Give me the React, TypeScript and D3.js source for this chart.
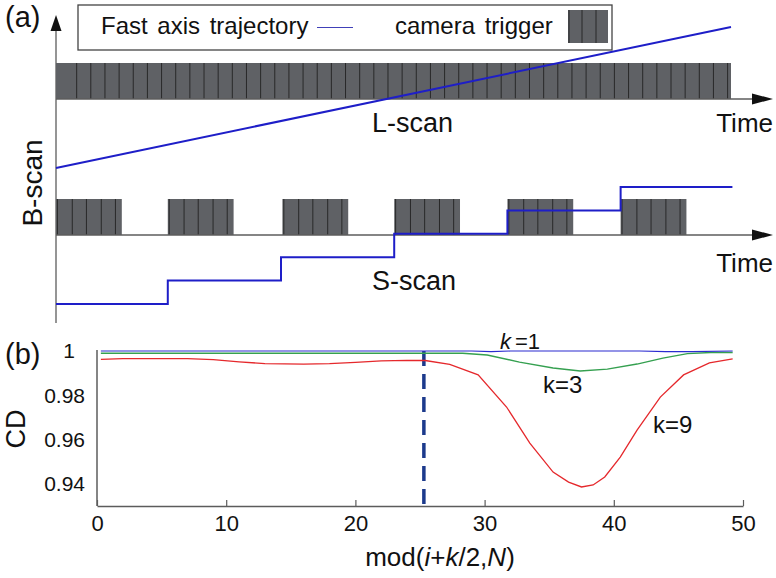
import React, { useEffect, useRef } from 'react';
import * as d3 from 'd3';

// ---- panel (a): time measured in camera frames
const lscanEnd = 47.7;
const lscanFramePhase = 1.46;
const lscanFrameCount = 47;
const lscanTrajTime = [0, 47.7];
const lscanTrajPos = [0, 1];

const sGroupStarts = [0, 7.9, 16, 23.9, 31.9, 39.9];
const sGroupLength = 4.65;
const sFrameOffsets = [0.1, 1.15, 2.15, 3.2, 4.2];
const sStepTimes = [0, 7.9, 15.9, 23.9, 31.9, 39.9, 47.8];
const sStepLevels = [0, 1, 2, 3, 4, 5, 5];

// ---- panel (b)
const xTicks = [0, 10, 20, 30, 40, 50];
const yTicks = [0.94, 0.96, 0.98, 1];
const dashedAt = 25.3;

const k1X = [0.3, 29, 30.5, 32, 42, 44, 46, 49.2];
const k1CD = [1, 1, 0.9997, 1, 1, 0.9997, 0.9997, 1];

const k3X = [0.3, 10, 20, 28.3, 30.2, 32.7, 35.3, 37.4, 39.5, 41.8, 43.8, 45.7, 47.5, 49.2];
const k3CD = [0.999, 0.999, 0.999, 0.999, 0.9982, 0.995, 0.9923, 0.991, 0.9918, 0.9941, 0.9968, 0.9988, 0.9993, 0.9993];

const k9X = [0.3, 2, 4, 7, 9, 11, 13, 16, 18, 20, 22, 24, 25.4, 27.3, 29.5, 31.7, 33.5, 35.3, 36.5, 37.5, 38.4, 39.3, 40.5, 41.8, 43.6, 45.4, 47.4, 49.2];
const k9CD = [0.9962, 0.9966, 0.9966, 0.9966, 0.9961, 0.9951, 0.9943, 0.9941, 0.9943, 0.9949, 0.9955, 0.9958, 0.9957, 0.994, 0.9892, 0.9747, 0.9584, 0.9453, 0.9408, 0.9386, 0.9395, 0.9431, 0.9521, 0.9643, 0.9792, 0.9892, 0.9946, 0.9964];

export default function App() {
  const ref = useRef<SVGSVGElement>(null);

  useEffect(() => {
    const svg = d3.select(ref.current);
    svg.selectAll('*').remove();
    svg.attr('font-family', '"Liberation Sans", Arial, sans-serif');

    const axisCol = '#5c5c5c';
    const barFill = '#5f6165';
    const divCol = '#222';
    const blue = '#1e1ec8';

    // ================= panel (a)
    const t = d3.scaleLinear().domain([0, lscanEnd]).range([56, 731]);
    const lPos = d3.scaleLinear().domain([0, 1]).range([168, 27]);
    const sPos = d3.scaleLinear().domain([0, 5]).range([304, 187]);

    // vertical B-scan axis
    svg.append('line').attr('x1', 56).attr('x2', 56).attr('y1', 28).attr('y2', 323)
      .attr('stroke', axisCol).attr('stroke-width', 1.3);
    svg.append('path').attr('d', 'M56,15 L50.5,31 L61.5,31 Z').attr('fill', '#111');

    // L-scan camera trigger
    const lTop = 63, lBase = 99;
    svg.append('rect').attr('x', t(0)).attr('y', lTop).attr('width', t(lscanEnd) - t(0))
      .attr('height', lBase - lTop).attr('fill', barFill);
    const lDiv = d3.range(lscanFrameCount).map(n => lscanFramePhase + n);
    svg.append('g').selectAll('line').data(lDiv).join('line')
      .attr('x1', d => t(d)).attr('x2', d => t(d)).attr('y1', lTop).attr('y2', lBase)
      .attr('stroke', divCol).attr('stroke-width', 0.9);

    const timeAxis = (y: number) => {
      svg.append('line').attr('x1', 56).attr('x2', 756).attr('y1', y).attr('y2', y)
        .attr('stroke', axisCol).attr('stroke-width', 1.3);
      svg.append('path').attr('d', `M773,${y} L752,${y - 5.5} L752,${y + 5.5} Z`).attr('fill', '#111');
    };
    timeAxis(lBase);

    svg.append('path')
      .datum(lscanTrajTime.map((d, i) => [d, lscanTrajPos[i]] as [number, number]))
      .attr('d', d3.line<[number, number]>().x(d => t(d[0])).y(d => lPos(d[1])))
      .attr('fill', 'none').attr('stroke', blue).attr('stroke-width', 2);

    // S-scan camera trigger
    const sTop = 199, sBase = 235;
    const grp = svg.append('g').selectAll('g').data(sGroupStarts).join('g');
    grp.append('rect').attr('x', d => t(d)).attr('y', sTop)
      .attr('width', t(sGroupLength) - t(0)).attr('height', sBase - sTop).attr('fill', barFill);
    grp.selectAll('line').data(d => sFrameOffsets.map(o => d + o)).join('line')
      .attr('x1', d => t(d)).attr('x2', d => t(d)).attr('y1', sTop).attr('y2', sBase)
      .attr('stroke', divCol).attr('stroke-width', 0.9);

    timeAxis(sBase);

    svg.append('path')
      .datum(sStepTimes.map((d, i) => [d, sStepLevels[i]] as [number, number]))
      .attr('d', d3.line<[number, number]>().x(d => t(d[0])).y(d => sPos(d[1])).curve(d3.curveStepAfter))
      .attr('fill', 'none').attr('stroke', blue).attr('stroke-width', 2);

    // legend
    svg.append('rect').attr('x', 78).attr('y', 5).attr('width', 534).attr('height', 45)
      .attr('fill', '#fff').attr('stroke', '#444').attr('stroke-width', 1.3);
    svg.append('text').attr('x', 101).attr('y', 34).attr('font-size', 24).attr('word-spacing', 3)
      .attr('fill', '#111').text('Fast axis trajectory');
    svg.append('line').attr('x1', 317).attr('x2', 353).attr('y1', 27.5).attr('y2', 27.5)
      .attr('stroke', '#4040b8').attr('stroke-width', 1.2);
    svg.append('text').attr('x', 395).attr('y', 34).attr('font-size', 24).attr('word-spacing', 3)
      .attr('fill', '#111').text('camera trigger');
    svg.append('rect').attr('x', 568).attr('y', 10).attr('width', 40).attr('height', 33).attr('fill', barFill);
    svg.append('g').selectAll('line').data([569, 582, 596]).join('line')
      .attr('x1', d => d).attr('x2', d => d).attr('y1', 10).attr('y2', 43)
      .attr('stroke', divCol).attr('stroke-width', 0.9);

    // panel (a) texts
    const txt = (x: number, y: number, s: string, size: number, anchor = 'start') =>
      svg.append('text').attr('x', x).attr('y', y).attr('font-size', size)
        .attr('text-anchor', anchor).attr('fill', '#111').text(s);
    txt(5, 27, '(a)', 29);
    txt(372, 132, 'L-scan', 27);
    txt(773, 132, 'Time', 26, 'end');
    txt(372, 290, 'S-scan', 27);
    txt(773, 272, 'Time', 26, 'end');
    svg.append('text').attr('transform', 'translate(42,183) rotate(-90)').attr('font-size', 28)
      .attr('text-anchor', 'middle').attr('fill', '#111').text('B-scan');

    // ================= panel (b)
    const x = d3.scaleLinear().domain([0, 50]).range([97, 743]);
    const y = d3.scaleLinear().domain([0.93, 1]).range([506, 351]);

    const xAxis = svg.append('g').attr('transform', 'translate(0,506)')
      .call(d3.axisBottom(x).tickValues(xTicks).tickSize(-6).tickSizeOuter(0).tickPadding(10));
    xAxis.select('.domain').attr('stroke', axisCol).attr('stroke-width', 1.5);
    xAxis.selectAll('.tick line').attr('stroke', axisCol).attr('stroke-width', 1.2);
    xAxis.selectAll('.tick text').attr('font-size', 22).attr('fill', '#111')
      .attr('font-family', '"Liberation Sans", Arial, sans-serif').attr('dy', '0.71em').attr('y', 9);

    const yAxis = svg.append('g').attr('transform', 'translate(97,0)')
      .call(d3.axisLeft(y).tickValues(yTicks).tickSize(0).tickSizeOuter(0).tickPadding(12)
        .tickFormat(d => (+d === 1 ? '1' : d3.format('.2f')(+d))));
    yAxis.select('.domain').attr('stroke', axisCol).attr('stroke-width', 1.5)
      .attr('d', `M0,${y(1) - 1}V506`);
    yAxis.selectAll('.tick text').attr('font-size', 21).attr('fill', '#111')
      .attr('font-family', '"Liberation Sans", Arial, sans-serif')
      .attr('x', (d: any) => (+d === 1 ? -22 : -12));

    // dashed marker
    svg.append('line').attr('x1', x(dashedAt)).attr('x2', x(dashedAt)).attr('y1', 351).attr('y2', 506)
      .attr('stroke', '#1c3a8c').attr('stroke-width', 3.5).attr('stroke-dasharray', '15,8');

    const line = d3.line<[number, number]>().x(d => x(d[0])).y(d => y(d[1]));
    const series: [number[], number[], string, number][] = [
      [k9X, k9CD, '#e5282c', 1.3],
      [k3X, k3CD, '#35a050', 1.4],
      [k1X, k1CD, '#2b2bd0', 1.2],
    ];
    series.forEach(([xs, ys, col, w]) => {
      svg.append('path').datum(xs.map((d, i) => [d, ys[i]] as [number, number]))
        .attr('d', line).attr('fill', 'none').attr('stroke', col).attr('stroke-width', w);
    });

    // labels
    const k1 = svg.append('text').attr('x', 500).attr('y', 349).attr('font-size', 22).attr('fill', '#111');
    k1.append('tspan').attr('font-style', 'italic').text('k');
    k1.append('tspan').attr('dx', 4).text('=1');
    txt(543, 393, 'k=3', 24);
    txt(653, 433, 'k=9', 24);
    txt(5, 364, '(b)', 29);
    svg.append('text').attr('transform', 'translate(25,429) rotate(-90)').attr('font-size', 27)
      .attr('text-anchor', 'middle').attr('fill', '#111').text('CD');

    const xl = svg.append('text').attr('x', 440).attr('y', 566).attr('font-size', 26)
      .attr('text-anchor', 'middle').attr('fill', '#111');
    xl.append('tspan').text('mod(');
    xl.append('tspan').attr('font-style', 'italic').text('i');
    xl.append('tspan').text('+');
    xl.append('tspan').attr('font-style', 'italic').text('k');
    xl.append('tspan').text('/2,');
    xl.append('tspan').attr('font-style', 'italic').text('N');
    xl.append('tspan').text(')');
  }, []);

  return (
    <svg ref={ref} width={776} height={578}
      style={{ position: 'absolute', left: 0, top: 0, background: '#fff', display: 'block' }} />
  );
}
